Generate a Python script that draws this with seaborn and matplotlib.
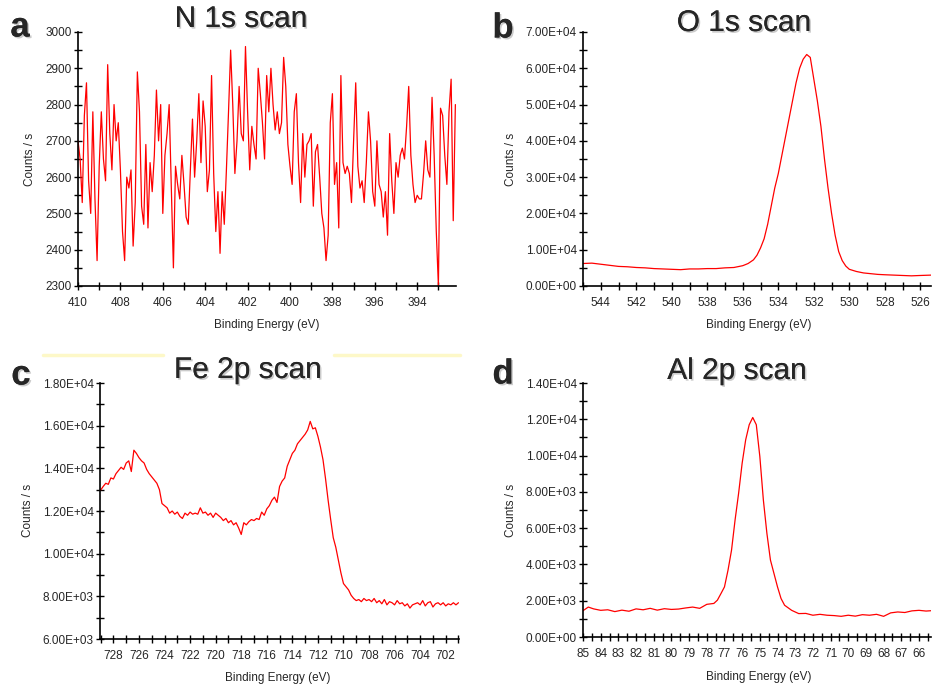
import numpy as np
import pandas as pd
import seaborn as sns
import matplotlib
matplotlib.use('Agg')
import matplotlib.pyplot as plt
import matplotlib.patheffects as pe
from matplotlib.ticker import MultipleLocator, FuncFormatter
from matplotlib.lines import Line2D

# --- N 1s scan: 410.0 -> 392.2 eV, 0.1 eV steps
n1s_start, n1s_stop = 410.0, 392.2
n1s_counts = [
    2700, 2650, 2530, 2770, 2860, 2590, 2500, 2780, 2540, 2370,
    2630, 2780, 2650, 2590, 2910, 2720, 2620, 2800, 2700, 2750,
    2620, 2450, 2370, 2600, 2570, 2620, 2410, 2530, 2890, 2780,
    2520, 2470, 2690, 2460, 2640, 2560, 2660, 2840, 2700, 2800,
    2500, 2660, 2720, 2800, 2570, 2350, 2630, 2580, 2540, 2660,
    2580, 2490, 2470, 2620, 2760, 2600, 2700, 2830, 2640, 2810,
    2740, 2560, 2620, 2880, 2610, 2450, 2560, 2390, 2560, 2470,
    2620, 2780, 2950, 2800, 2610, 2700, 2850, 2720, 2700, 2960,
    2780, 2620, 2740, 2690, 2650, 2900, 2830, 2750, 2650, 2880,
    2780, 2900, 2800, 2730, 2780, 2720, 2750, 2930, 2850, 2690,
    2630, 2580, 2780, 2830, 2640, 2530, 2720, 2600, 2690, 2700,
    2720, 2520, 2670, 2690, 2600, 2500, 2460, 2370, 2440, 2750,
    2830, 2580, 2640, 2460, 2880, 2640, 2610, 2630, 2610, 2530,
    2700, 2860, 2630, 2570, 2590, 2530, 2640, 2780, 2700, 2560,
    2520, 2700, 2580, 2560, 2490, 2560, 2440, 2720, 2590, 2500,
    2640, 2600, 2660, 2680, 2650, 2740, 2850, 2660, 2580, 2530,
    2550, 2540, 2540, 2610, 2700, 2620, 2600, 2820, 2660, 2450,
    2300, 2790, 2770, 2660, 2580, 2780, 2870, 2480, 2800,
]

# --- O 1s scan
o1s_energy = [545.0, 544.5, 544.0, 543.5, 543.0, 542.5, 542.0, 541.5, 541.0, 540.5,
              540.0, 539.5, 539.0, 538.5, 538.0, 537.5, 537.0, 536.5, 536.0, 535.7,
              535.4, 535.2, 535.0, 534.8, 534.6, 534.4, 534.2, 534.0, 533.8, 533.6,
              533.4, 533.2, 533.0, 532.8, 532.6, 532.4, 532.2, 532.0, 531.8, 531.6,
              531.4, 531.2, 531.0, 530.8, 530.6, 530.4, 530.2, 530.0, 529.6, 529.2,
              528.8, 528.4, 528.0, 527.5, 527.0, 526.5, 526.0, 525.4]
o1s_counts = [6200, 6300, 6000, 5700, 5400, 5300, 5100, 5000, 4800, 4700,
              4600, 4500, 4700, 4700, 4800, 4800, 5000, 5100, 5600, 6200,
              7200, 8500, 10500, 13000, 17000, 22000, 27000, 31000, 36000, 41000,
              46000, 51000, 56000, 60000, 62500, 63800, 63000, 57000, 51000, 44000,
              35000, 27000, 20000, 14000, 9500, 7000, 5500, 4600, 4000, 3600,
              3400, 3200, 3100, 3000, 2900, 2800, 2900, 3000]

# --- Fe 2p scan: 729.0 -> 701.0 eV, 0.2 eV steps
fe2p_start, fe2p_stop = 729.0, 701.0
fe2p_counts = [
    12980, 13150, 13300, 13250, 13550, 13500, 13750, 13900, 14050, 13950,
    14250, 14350, 13850, 14850, 14700, 14500, 14350, 14250, 13950, 13750,
    13600, 13450, 13300, 13000, 12350, 12250, 12150, 11900, 12000, 11850,
    11950, 11750, 11650, 11900, 11800, 11950, 11850, 11900, 11850, 12150,
    11900, 11950, 11800, 11900, 11700, 11900, 11800, 11700, 11550, 11650,
    11450, 11550, 11350, 11450, 11200, 10900, 11450, 11350, 11500, 11600,
    11550, 11650, 11600, 11950, 11800, 12100, 12250, 12500, 12650, 12400,
    13150, 13400, 13550, 14100, 14400, 14700, 14850, 15150, 15300, 15450,
    15600, 15800, 16200, 15850, 15900, 15500, 15000, 14400, 13500, 12500,
    11600, 10750, 10300, 9700, 9100, 8600, 8450, 8300, 8050, 7900,
    7800, 7850, 7750, 7900, 7800, 7850, 7750, 7900, 7700, 7800,
    7650, 7850, 7600, 7750, 7700, 7600, 7800, 7650, 7700, 7550,
    7650, 7450, 7600, 7650, 7700, 7600, 7800, 7550, 7700, 7750,
    7500, 7650, 7700, 7600, 7700, 7550, 7650, 7600, 7700, 7600,
    7700,
]

# --- Al 2p scan
al2p_energy = [85.0, 84.7, 84.4, 84.0, 83.6, 83.2, 82.8, 82.4, 82.0, 81.6,
               81.2, 80.8, 80.4, 80.0, 79.6, 79.2, 78.8, 78.4, 78.0, 77.6,
               77.4, 77.2, 77.0, 76.8, 76.6, 76.4, 76.2, 76.0, 75.8, 75.6,
               75.4, 75.2, 75.0, 74.8, 74.6, 74.4, 74.2, 74.0, 73.8, 73.6,
               73.2, 72.8, 72.4, 72.0, 71.6, 71.2, 70.8, 70.4, 70.0, 69.6,
               69.2, 68.8, 68.4, 68.0, 67.6, 67.2, 66.8, 66.4, 66.0, 65.6, 65.3]
al2p_counts = [1450, 1650, 1550, 1470, 1500, 1400, 1480, 1420, 1550, 1500,
               1580, 1480, 1560, 1520, 1540, 1600, 1650, 1580, 1800, 1850,
               2030, 2390, 2760, 3680, 4790, 6450, 7920, 9580, 10870, 11700,
               12100, 11700, 9950, 7550, 5710, 4240, 3500, 2760, 2120, 1750,
               1470, 1290, 1300, 1200, 1250, 1200, 1180, 1140, 1200, 1150,
               1230, 1200, 1250, 1140, 1330, 1380, 1350, 1440, 1470, 1430, 1450]

n1s = pd.DataFrame({'energy': np.linspace(n1s_start, n1s_stop, len(n1s_counts)), 'counts': n1s_counts})
o1s = pd.DataFrame({'energy': o1s_energy, 'counts': o1s_counts})
fe2p = pd.DataFrame({'energy': np.linspace(fe2p_start, fe2p_stop, len(fe2p_counts)), 'counts': fe2p_counts})
al2p = pd.DataFrame({'energy': al2p_energy, 'counts': al2p_counts})

sns.set_style('ticks')
plt.rcParams['font.family'] = ['Liberation Sans', 'DejaVu Sans']

fig = plt.figure(figsize=(9.32, 6.9), dpi=100)

sci_fmt = FuncFormatter(lambda v, p: f'{v:.2E}')

# rect, data, xlim, ylim, x major/minor, y major/minor, formatter, label coords, title, letter
panels = [
    dict(rect=[78 / 932, 1 - 286 / 690, 378 / 932, 254 / 690], df=n1s,
         xlim=(410, 392.17), ylim=(2300, 3000), xt=(2, 1), yt=(100, 50), fmt=None,
         xl=(0.5, -0.13), yl=(-0.111, 0.5),
         title='N 1s scan', tpos=(241, 19), letter='a', lpos=(20, 27)),
    dict(rect=[583 / 932, 1 - 286 / 690, 348 / 932, 254 / 690], df=o1s,
         xlim=(545, 525.4), ylim=(0, 70000), xt=(2, 1), yt=(10000, 5000), fmt=sci_fmt,
         xl=(0.504, -0.13), yl=(-0.19, 0.5),
         title='O 1s scan', tpos=(744, 23), letter='b', lpos=(503, 28)),
    dict(rect=[100 / 932, 1 - 639 / 690, 359 / 932, 256 / 690], df=fe2p,
         xlim=(729.05, 700.96), ylim=(6000, 18000), xt=(2, 1), yt=(2000, 1000), fmt=sci_fmt,
         xl=(0.496, -0.129), yl=(-0.184, 0.504),
         title='Fe 2p scan', tpos=(248, 370), letter='c', lpos=(21, 375)),
    dict(rect=[583 / 932, 1 - 637 / 690, 348 / 932, 254 / 690], df=al2p,
         xlim=(85, 65.32), ylim=(0, 14000), xt=(1, 0.5), yt=(2000, 1000), fmt=sci_fmt,
         xl=(0.504, -0.134), yl=(-0.19, 0.5),
         title='Al 2p scan', tpos=(737, 371), letter='d', lpos=(503, 374)),
]

shadow = [pe.withSimplePatchShadow(offset=(1.2, -1.2), shadow_rgbFace='#999999', alpha=0.5), pe.Normal()]

for p in panels:
    ax = fig.add_axes(p['rect'])
    sns.lineplot(data=p['df'], x='energy', y='counts', ax=ax, color='#ff0000',
                 linewidth=0.9, estimator=None, sort=False)
    ax.set_xlim(*p['xlim'])
    ax.set_ylim(*p['ylim'])
    ax.xaxis.set_major_locator(MultipleLocator(p['xt'][0]))
    ax.xaxis.set_minor_locator(MultipleLocator(p['xt'][1]))
    ax.yaxis.set_major_locator(MultipleLocator(p['yt'][0]))
    ax.yaxis.set_minor_locator(MultipleLocator(p['yt'][1]))
    if p['fmt'] is not None:
        ax.yaxis.set_major_formatter(p['fmt'])
    else:
        ax.yaxis.set_major_formatter(FuncFormatter(lambda v, q: f'{v:.0f}'))
    ax.xaxis.set_major_formatter(FuncFormatter(lambda v, q: f'{v:g}'))
    sns.despine(ax=ax)
    for s in ('left', 'bottom'):
        ax.spines[s].set_linewidth(1.2)
        ax.spines[s].set_color('black')
    ax.tick_params(which='both', direction='inout', length=6, width=1, color='black')
    ax.tick_params(axis='x', which='major', labelsize=8.5, pad=5)
    ax.tick_params(axis='y', which='major', labelsize=8.5, pad=1.5)
    ax.set_xlabel('Binding Energy (eV)', fontsize=8.5)
    ax.set_ylabel('Counts / s', fontsize=8.5)
    ax.xaxis.set_label_coords(*p['xl'])
    ax.yaxis.set_label_coords(*p['yl'])

    fig.text(p['tpos'][0] / 932, 1 - p['tpos'][1] / 690, p['title'], fontsize=21.5,
             ha='center', va='center', path_effects=shadow)
    fig.text(p['lpos'][0] / 932, 1 - p['lpos'][1] / 690, p['letter'], fontsize=25,
             fontweight='bold', ha='center', va='center', path_effects=shadow)

# pale yellow rules above panel c
for x0, x1 in [(43, 163), (334, 460)]:
    fig.add_artist(Line2D([x0 / 932, x1 / 932], [1 - 355 / 690] * 2, color='#fdf8c8', lw=2.5))

fig.savefig('out.png', dpi=100)
